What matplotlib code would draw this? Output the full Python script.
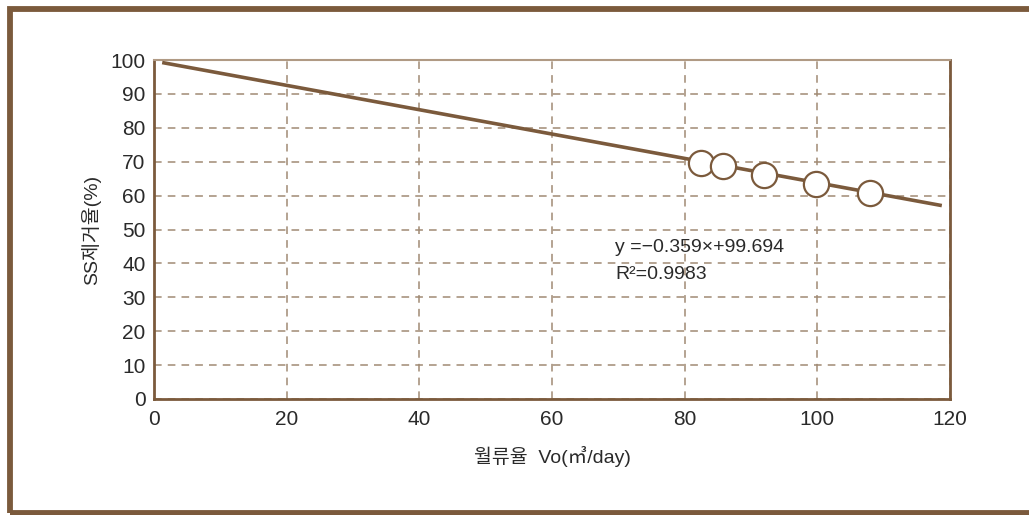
import numpy as np
import matplotlib.pyplot as plt
from matplotlib.patches import Rectangle

plt.rcParams['font.family'] = ['Liberation Sans', 'Noto Sans CJK KR', 'DejaVu Sans']

# 측정값
flow = [82.5, 85.8, 91.9, 99.8, 108.0]
removal = [69.5, 68.7, 66.1, 63.4, 60.8]

# 회귀식
slope, intercept = -0.359, 99.694
fit_x = np.array([1.5, 118.5])

brown = '#7b5a3c'
grid_c = '#a08a74'
txt = '#2a2a2a'

fig = plt.figure(figsize=(10.29, 5.15), dpi=100)
fig.patches.append(Rectangle((9.5 / 1029, 2 / 515), 1.1, 1 - 10.5 / 515,
                             transform=fig.transFigure, fill=False,
                             edgecolor=brown, linewidth=4.2))

ax = fig.add_axes([154 / 1029, 1 - 399 / 515, (950 - 154) / 1029, (399 - 60) / 515])
ax.set_xlim(0, 120)
ax.set_ylim(0, 100)
ax.set_xticks(np.arange(0, 121, 20))
ax.set_yticks(np.arange(0, 101, 10))
ax.grid(True, color=grid_c, linestyle=(0, (5, 4)), linewidth=1.1)
ax.tick_params(length=0, labelsize=15, colors=txt)
ax.tick_params(axis='x', pad=8)
ax.tick_params(axis='y', pad=6)

for side in ['left', 'bottom', 'right']:
    ax.spines[side].set_color(brown)
    ax.spines[side].set_linewidth(2)
ax.spines['top'].set_color('#b09a84')
ax.spines['top'].set_linewidth(1.5)

ax.plot(fit_x, slope * fit_x + intercept, color=brown, linewidth=2.6, zorder=3)
ax.scatter(flow, removal, s=330, facecolor='white', edgecolor=brown,
           linewidth=1.6, zorder=4)

ax.text(69.5, 43.5, 'y =\u22120.359\u00d7+99.694', fontsize=14, color=txt)
ax.text(69.5, 35.5, 'R\u00b2=0.9983', fontsize=14, color=txt)

ax.set_xlabel('월류율  Vo(㎥/day)', fontsize=14, labelpad=12, color=txt)
ax.set_ylabel('SS제거율(%)', fontsize=14, labelpad=7, color=txt)

fig.savefig('out.png', dpi=100)
